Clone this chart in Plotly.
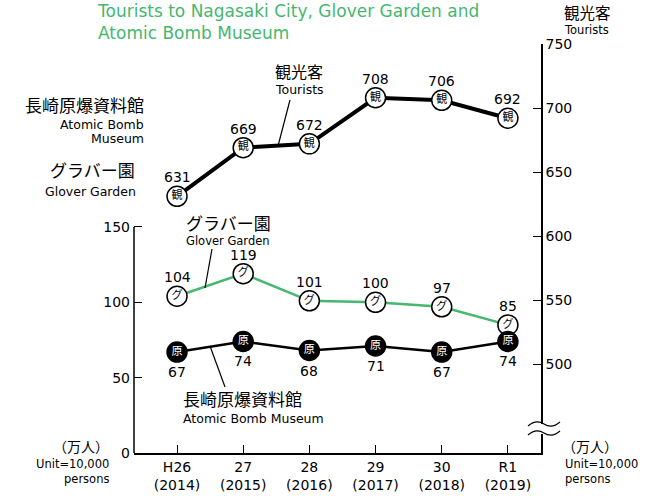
import plotly.graph_objects as go

years = ["H26<br>(2014)", "27<br>(2015)", "28<br>(2016)", "29<br>(2017)", "30<br>(2018)", "R1<br>(2019)"]
tourists = [631, 669, 672, 708, 706, 692]
glover = [104, 119, 101, 100, 97, 85]
atomic = [67, 74, 68, 71, 67, 74]
left_ticks = [0, 50, 100, 150]
right_ticks = [500, 550, 600, 650, 700, 750]

GREEN = "#45b76f"
LAT = "DejaVu Sans, sans-serif"
JP = "Noto Sans CJK JP, sans-serif"

W, H = 648, 496
L, R, T, B = 134, 541, 44, 453

def px(x, y):
    return (x - L) / (R - L), (B - y) / (B - T)

xs = list(range(len(years)))
fig = go.Figure()

fig.add_trace(go.Scatter(
    x=xs, y=tourists, yaxis="y2", mode="lines+markers+text",
    line=dict(color="black", width=4),
    marker=dict(size=20, color="white", line=dict(color="black", width=1.5)),
    text=["観"] * len(xs), textposition="middle center",
    textfont=dict(family=JP, size=11, color="black"), hoverinfo="skip"))
fig.add_trace(go.Scatter(
    x=xs, y=glover, mode="lines+markers+text",
    line=dict(color=GREEN, width=2.5),
    marker=dict(size=20, color="white", line=dict(color="black", width=1.5)),
    text=["グ"] * len(xs), textposition="middle center",
    textfont=dict(family=JP, size=11, color="black"), hoverinfo="skip"))
fig.add_trace(go.Scatter(
    x=xs, y=atomic, mode="lines+markers+text",
    line=dict(color="black", width=2.5),
    marker=dict(size=20, color="black", line=dict(color="black", width=1.5)),
    text=["原"] * len(xs), textposition="middle center",
    textfont=dict(family=JP, size=11, color="white"), hoverinfo="skip"))

ann = []
for i, v in enumerate(tourists):
    ann.append(dict(x=i, y=v, xref="x", yref="y2", text=str(v), showarrow=False,
                    yshift=19, font=dict(family=LAT, size=14, color="black")))
for i, v in enumerate(glover):
    ann.append(dict(x=i, y=v, xref="x", yref="y", text=str(v), showarrow=False,
                    yshift=19, font=dict(family=LAT, size=14, color="black")))
for i, v in enumerate(atomic):
    ann.append(dict(x=i, y=v, xref="x", yref="y", text=str(v), showarrow=False,
                    yshift=-20, font=dict(family=LAT, size=14, color="black")))

def text(x, y, s, size, fam, xanchor="left", color="black", align="left"):
    a, b = px(x, y)
    ann.append(dict(x=a, y=b, xref="paper", yref="paper", text=s, showarrow=False,
                    xanchor=xanchor, yanchor="middle", align=align,
                    font=dict(family=fam, size=size, color=color)))

# title
text(95, 22, "Tourists to Nagasaki City, Glover Garden and<br>Atomic Bomb Museum", 17, LAT, color=GREEN)
# right axis title
text(562, 12, "観光客", 15.5, JP)
text(562, 30, "Tourists", 11.5, LAT)
# left labels
text(146, 104, "長崎原爆資料館", 17, JP, xanchor="right")
text(146, 124, "Atomic Bomb", 12.5, LAT, xanchor="right")
text(146, 138, "Museum", 12.5, LAT, xanchor="right")
text(137, 169, "グラバー園", 17, JP, xanchor="right")
text(138, 191, "Glover Garden", 12.5, LAT, xanchor="right")
# tourist callout
text(299, 71, "観光客", 16, JP, xanchor="center")
text(299, 89, "Tourists", 12.5, LAT, xanchor="center")
# glover callout
text(184, 223, "グラバー園", 17, JP)
text(184, 241, "Glover Garden", 11.5, LAT)
# atomic callout
text(181, 398, "長崎原爆資料館", 17, JP)
text(181, 418, "Atomic Bomb Museum", 12.5, LAT)
# units
text(111, 446, "（万人）", 14, JP, xanchor="right")
text(111, 464, "Unit=10,000", 11.5, LAT, xanchor="right")
text(111, 479, "persons", 11.5, LAT, xanchor="right")
text(560, 446, "（万人）", 14, JP)
text(563, 464, "Unit=10,000", 11.5, LAT)
text(563, 479, "persons", 11.5, LAT)

shapes = []
def seg(x0, y0, x1, y1, w=1.2):
    a0, b0 = px(x0, y0)
    a1, b1 = px(x1, y1)
    shapes.append(dict(type="line", xref="paper", yref="paper", x0=a0, y0=b0, x1=a1, y1=b1,
                       line=dict(color="black", width=w)))

# left axis line (0..150 only)
shapes.append(dict(type="line", xref="paper", yref="y", x0=0, x1=0, y0=0, y1=150,
                   line=dict(color="black", width=1.5)))
# callout leaders
seg(290, 100, 278, 146)
seg(212, 249, 205, 288)
seg(210, 346, 225, 387)

# axis break
a0, b0 = px(535, 434)
a1, b1 = px(548, 424)
shapes.append(dict(type="rect", xref="paper", yref="paper", x0=a0, y0=b0, x1=a1, y1=b1,
                   line=dict(width=0), fillcolor="white"))
def wave(yc):
    pts = [(528, yc + 2), (536, yc - 5), (544, yc), (552, yc + 5), (560, yc - 2)]
    p = [px(x, y) for x, y in pts]
    d = "M{0},{1} Q{2},{3} {4},{5} T{8},{9}".format(p[0][0], p[0][1], p[1][0], p[1][1],
                                                   p[2][0], p[2][1], p[3][0], p[3][1], p[4][0], p[4][1])
    shapes.append(dict(type="path", xref="paper", yref="paper", path=d,
                       line=dict(color="black", width=1.2)))
wave(424)
wave(433)

fig.update_layout(
    width=W, height=H, margin=dict(l=L, r=W - R, t=T, b=H - B, autoexpand=False),
    paper_bgcolor="white", plot_bgcolor="white", showlegend=False,
    xaxis=dict(range=[-0.65, 5.5], tickvals=xs, ticktext=years, showgrid=False, zeroline=False,
               automargin=False,
               showline=True, linecolor="black", linewidth=1.5, ticks="inside", ticklen=8,
               tickcolor="black", tickwidth=1.2, tickfont=dict(family=LAT, size=14, color="black")),
    yaxis=dict(range=[0, 271.4], tickvals=left_ticks, showgrid=False, zeroline=False, showline=False,
               automargin=False, ticklabelstandoff=3,
               ticks="inside", ticklen=8, tickcolor="black", tickwidth=1.2,
               tickfont=dict(family=LAT, size=14, color="black")),
    yaxis2=dict(range=[430.5, 750], tickvals=right_ticks, overlaying="y", side="right", anchor="x",
                automargin=False,
                showgrid=False, zeroline=False, showline=True, linecolor="black", linewidth=1.5,
                ticks="inside", ticklen=8, tickcolor="black", tickwidth=1.2,
                tickfont=dict(family=LAT, size=14, color="black")),
    annotations=ann, shapes=shapes,
)
fig.write_html("out.html", config={"displayModeBar": False},
               post_script="document.body.style.margin='0px';")
